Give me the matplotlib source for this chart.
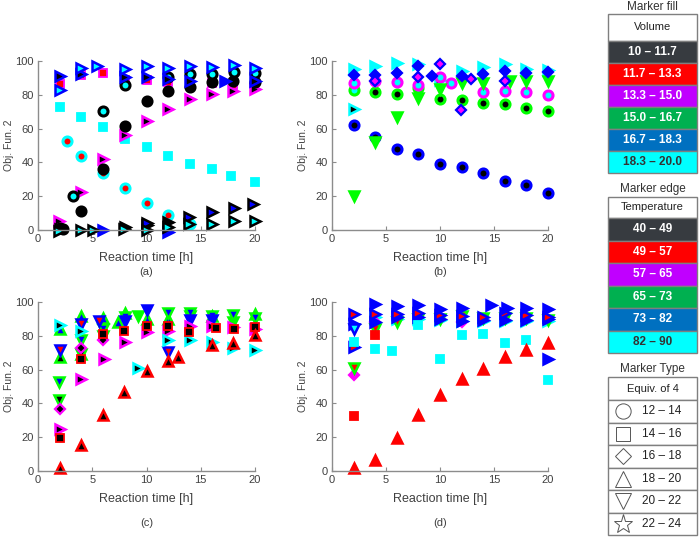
import matplotlib
matplotlib.use('Agg')
import matplotlib.pyplot as plt
from matplotlib.patches import Rectangle

plt.rcParams['font.family'] = ['Liberation Sans', 'DejaVu Sans']

# ── 색상 (MATLAB 마커 색) ──────────────────────────────
K, R, M, G, B, C = 'black', '#ff0000', '#ff00ff', '#00ff00', '#0000ff', '#00ffff'

# ── (a) 데이터 ────────────────────────────────────────
a_cyan_sq_x = [2, 4, 6, 8, 10, 12, 14, 16, 17.8, 20]
a_cyan_sq_y = [73, 66.7, 61, 54, 49.3, 43.8, 39, 35.9, 32.1, 28.2]
a_mag_sq_x = [2, 4, 6, 8, 10, 12, 16, 18]
a_mag_sq_y = [86.4, 92, 93.1, 89, 88.5, 87.5, 86.8, 86]
a_blue_cyan_tri_x = [2, 4, 5.4, 8, 10, 12, 14, 16, 18.1, 20]
a_blue_cyan_tri_y = [82.8, 95.7, 97.2, 95.3, 97.2, 95.7, 97.2, 96.6, 97.6, 95.7]
a_blue_blk_tri_x = [2, 4, 8, 10, 12, 14, 20]
a_blue_blk_tri_y = [91.1, 92.3, 90.3, 90.7, 89.5, 88.4, 88]
a_blue_tri_x = [6, 12, 17.2]
a_blue_tri_y = [0, -1, 88.4]
a_blk_cyan_circ_x = [3.2, 6, 8, 12, 14, 16, 18.1, 20]
a_blk_cyan_circ_y = [20.1, 70.6, 85.8, 90.7, 92.3, 92.3, 93.7, 93.1]
a_blk_circ_x = [2, 2.3, 4, 6, 8, 10, 12, 14, 16, 18, 20]
a_blk_circ_y = [1.4, 0.8, 11.2, 36.1, 61.5, 76.5, 82.4, 84.8, 87.4, 88.4, 87.4]
a_cyan_red_circ_x = [2.64, 4, 6, 8, 10, 12, 14]
a_cyan_red_circ_y = [52.9, 43.8, 33.9, 24.6, 16.2, 8.9, 3.5]
a_mag_tri_x = [1.93, 4, 6, 8, 10, 12, 14, 16, 18, 20]
a_mag_tri_y = [5.3, 22.7, 41.8, 56, 64.7, 71.4, 77.3, 80.3, 82.4, 83.3]
a_blk_blue_tri_x = [10, 13.95, 16, 18.1, 19.85]
a_blk_blue_tri_y = [4, 7.9, 10.4, 13.2, 15.2]
a_blk_cyan_tri_x = [1.93, 4, 5.1, 7.96, 10, 12, 13.95, 16, 18.1, 20]
a_blk_cyan_tri_y = [-0.6, 0, 0, 0.6, 0, 2, 3.4, 3.4, 5.3, 5.3]
a_blk_tri_x = [2, 8, 10, 12]
a_blk_tri_y = [0.5, 1.5, 3, 4.5]

# ── (b) 데이터 ────────────────────────────────────────
b_blue_blk_circ_x = [2, 4, 6, 8, 10, 12, 14, 16, 18, 20]
b_blue_blk_circ_y = [62.3, 55.2, 47.9, 45, 39.3, 37.1, 33.5, 28.8, 26.6, 22.1]
b_grn_blk_circ_x = [4, 6, 10, 12, 14, 16, 18, 20]
b_grn_blk_circ_y = [81.5, 80.3, 77.5, 76.9, 75, 74.4, 72.4, 70.4]
b_grn_cyan_circ_x = [2, 8]
b_grn_cyan_circ_y = [82.8, 84]
b_grn_dtri_x = [2, 4, 6, 8, 10, 12, 14, 16.5, 18, 20]
b_grn_dtri_y = [20, 52.3, 67.1, 78.3, 83.2, 86.8, 86.8, 88.2, 88.4, 88.4]
b_mag_cyan_circ_x = [2, 4, 6, 8, 10, 11, 14, 16, 18, 20]
b_mag_cyan_circ_y = [86.8, 88.2, 87.4, 85.8, 90.7, 86.8, 81.5, 82.4, 81.9, 79.9]
b_blue_dia_x = [2, 4, 6, 8, 9.23, 12, 14, 16, 18, 20]
b_blue_dia_y = [91.7, 91.7, 92.7, 97.2, 91.3, 91.3, 92.1, 94.1, 93.1, 93.5]
b_blue_mag_dia_x = [4, 8, 10, 11.94, 12.87, 16]
b_blue_mag_dia_y = [88, 90.7, 98, 71, 89.3, 88]
b_cyan_tri_x = [2, 4, 6, 8, 12, 14, 16, 18, 20]
b_cyan_tri_y = [95.3, 97.2, 98.6, 98, 94.3, 96.6, 98, 95.3, 94.7]
b_cyan_blk_tri_x = [2, 10]
b_cyan_blk_tri_y = [71.8, 89]

# ── (c) 데이터 ────────────────────────────────────────
c_red_utri_x = [2, 3.96, 5.96, 7.96, 10, 12, 12.87, 16, 18, 20]
c_red_utri_y = [2, 15.2, 33, 46.7, 59, 64.9, 67.5, 74.4, 75.8, 80.3]
c_red_sq_x = [2, 3.93, 6, 7.95, 10, 12, 13.9, 16.4, 18.1, 20]
c_red_sq_y = [19.8, 66.5, 81.3, 82.8, 85.8, 85.8, 82.2, 84.8, 83.8, 85]
c_mag_tri_x = [2, 4, 6.1, 8, 10, 12, 14, 16, 18, 20]
c_mag_tri_y = [25.1, 54.7, 66.1, 76.3, 82.2, 83, 86, 86, 85, 84]
c_cyan_tri_x = [2.03, 4, 9.25, 12, 14, 16, 18, 20]
c_cyan_tri_y = [86.2, 83, 61.2, 77.3, 77.7, 76.5, 73, 71.4]
c_grn_blue_dtri_x = [1.94, 3.93, 6, 8, 12, 14, 16, 18, 20]
c_grn_blue_dtri_y = [52.7, 77.3, 84.3, 91, 93.5, 93.5, 92, 92.5, 90.5]
c_grn_blk_dtri_x = [1.94, 3.93, 6]
c_grn_blk_dtri_y = [41.8, 69, 80]
c_grn_blue_utri_x = [2, 3.93, 6, 7.4, 8, 10, 12, 16, 20]
c_grn_blue_utri_y = [84.3, 91.5, 90.5, 88.2, 93.5, 90.2, 90.2, 92, 93]
c_grn_blk_utri_x = [2, 3.93]
c_grn_blk_utri_y = [67.5, 69]
c_blue_red_dtri_x = [2, 3.93, 5.6, 12]
c_blue_red_dtri_y = [71.4, 87.2, 89, 70.4]
c_blue_dtri_x = [8, 10, 14, 16]
c_blue_dtri_y = [88.5, 95.5, 89.5, 89.5]
c_mag_dia_x = [2, 3.93, 6]
c_mag_dia_y = [36.5, 73, 77.7]
c_grn_dtri_x = [9.25, 14, 18]
c_grn_dtri_y = [91.5, 92, 88]

# ── (d) 데이터 ────────────────────────────────────────
d_red_utri_x = [2, 4, 6, 8, 10, 12, 14, 16, 18, 20]
d_red_utri_y = [2, 6.7, 19.8, 33.4, 44.8, 54.7, 60.2, 67.3, 71.8, 76]
d_cyan_sq_x = [2, 4, 5.6, 8, 10, 12, 14, 16, 18, 20]
d_cyan_sq_y = [76.6, 72.4, 71, 86.2, 66.1, 80.3, 81.3, 75.7, 77.7, 54.1]
d_red_sq_x = [2, 4]
d_red_sq_y = [32.4, 80.3]
d_mag_dia_x = [2, 4, 12]
d_mag_dia_y = [57, 88, 88]
d_cyan_tri_x = [4, 6, 8, 10, 12, 14, 16, 18, 20]
d_cyan_tri_y = [91, 90, 90, 89.5, 89, 89, 89, 88.5, 88.5]
d_grn_red_dtri_x = [2, 4, 6, 8, 10, 12, 14, 16, 18, 20]
d_grn_red_dtri_y = [61.2, 84.2, 88.4, 90.2, 90.2, 91.5, 90.5, 90.5, 90.5, 89.6]
d_blue_low_tri_x = [4, 6, 8, 10, 12, 14, 16, 18, 20]
d_blue_low_tri_y = [88.2, 91, 91, 90, 89, 89.5, 89.5, 89.5, 90]
d_blue_red_tri_x = [2, 2, 4, 6, 8, 10, 12, 14, 16, 18, 20]
d_blue_red_tri_y = [93.1, 73.4, 93, 93, 93.5, 92.1, 91.5, 91, 93.5, 92.5, 91]
d_blue_tri_x = [2, 4, 6, 8, 10, 12, 14.7, 16.2, 18, 20, 20]
d_blue_tri_y = [87.2, 99, 97.4, 98, 96.1, 96.6, 98, 96.6, 96.6, 96.1, 66.5]
d_blue_cyan_dtri_x = [2]
d_blue_cyan_dtri_y = [84.3]

# (x, y, 마커, 채움색, 테두리색) - 그리는 순서대로
series_a = [
    (a_cyan_sq_x, a_cyan_sq_y, 's', C, C),
    (a_mag_sq_x, a_mag_sq_y, 's', R, M),
    (a_mag_tri_x, a_mag_tri_y, '>', K, M),
    (a_cyan_red_circ_x, a_cyan_red_circ_y, 'o', R, C),
    (a_blk_circ_x, a_blk_circ_y, 'o', K, K),
    (a_blk_cyan_circ_x, a_blk_cyan_circ_y, 'o', C, K),
    (a_blue_blk_tri_x, a_blue_blk_tri_y, '>', K, B),
    (a_blue_cyan_tri_x, a_blue_cyan_tri_y, '>', C, B),
    (a_blue_tri_x, a_blue_tri_y, '>', B, B),
    (a_blk_tri_x, a_blk_tri_y, '>', K, K),
    (a_blk_blue_tri_x, a_blk_blue_tri_y, '>', B, K),
    (a_blk_cyan_tri_x, a_blk_cyan_tri_y, '>', C, K),
]
series_b = [
    (b_cyan_tri_x, b_cyan_tri_y, '>', C, C),
    (b_cyan_blk_tri_x, b_cyan_blk_tri_y, '>', K, C),
    (b_blue_blk_circ_x, b_blue_blk_circ_y, 'o', K, B),
    (b_grn_cyan_circ_x, b_grn_cyan_circ_y, 'o', C, G),
    (b_grn_blk_circ_x, b_grn_blk_circ_y, 'o', K, G),
    (b_mag_cyan_circ_x, b_mag_cyan_circ_y, 'o', C, M),
    (b_grn_dtri_x, b_grn_dtri_y, 'v', G, G),
    (b_blue_dia_x, b_blue_dia_y, 'D', B, B),
    (b_blue_mag_dia_x, b_blue_mag_dia_y, 'D', M, B),
]
series_c = [
    (c_grn_dtri_x, c_grn_dtri_y, 'v', G, G),
    (c_grn_blue_utri_x, c_grn_blue_utri_y, '^', B, G),
    (c_grn_blk_utri_x, c_grn_blk_utri_y, '^', K, G),
    (c_grn_blue_dtri_x, c_grn_blue_dtri_y, 'v', B, G),
    (c_grn_blk_dtri_x, c_grn_blk_dtri_y, 'v', K, G),
    (c_blue_dtri_x, c_blue_dtri_y, 'v', B, B),
    (c_blue_red_dtri_x, c_blue_red_dtri_y, 'v', R, B),
    (c_mag_dia_x, c_mag_dia_y, 'D', K, M),
    (c_mag_tri_x, c_mag_tri_y, '>', K, M),
    (c_cyan_tri_x, c_cyan_tri_y, '>', K, C),
    (c_red_sq_x, c_red_sq_y, 's', K, R),
    (c_red_utri_x, c_red_utri_y, '^', K, R),
]
series_d = [
    (d_cyan_tri_x, d_cyan_tri_y, '>', C, C),
    (d_mag_dia_x, d_mag_dia_y, 'D', M, M),
    (d_grn_red_dtri_x, d_grn_red_dtri_y, 'v', R, G),
    (d_blue_low_tri_x, d_blue_low_tri_y, '>', B, B),
    (d_blue_red_tri_x, d_blue_red_tri_y, '>', R, B),
    (d_blue_tri_x, d_blue_tri_y, '>', B, B),
    (d_blue_cyan_dtri_x, d_blue_cyan_dtri_y, 'v', C, B),
    (d_cyan_sq_x, d_cyan_sq_y, 's', C, C),
    (d_red_sq_x, d_red_sq_y, 's', R, R),
    (d_red_utri_x, d_red_utri_y, '^', R, R),
]

# ── 범례 표 데이터 ────────────────────────────────────
fill_labels = ['10 – 11.7', '11.7 – 13.3', '13.3 – 15.0', '15.0 – 16.7', '16.7 – 18.3', '18.3 – 20.0']
edge_labels = ['40 – 49', '49 – 57', '57 – 65', '65 – 73', '73 – 82', '82 – 90']
type_labels = ['12 – 14', '14 – 16', '16 – 18', '18 – 20', '20 – 22', '22 – 24']
type_markers = ['o', 's', 'D', '^', 'v', '*']
legend_colors = ['#373b40', '#ff0000', '#c000ff', '#00b050', '#0070c0', '#00ffff']
legend_text = ['white', 'white', 'white', 'white', 'white', '#333333']

MS = {'o': 6.5, 's': 6.0, 'D': 5.5, '^': 7.5, 'v': 7.5, '>': 7.5}
MEW = {'o': 2.2, 's': 1.3, 'D': 1.6, '^': 1.8, 'v': 1.8, '>': 1.8}
ICON_MS = {'o': 11, 's': 10, 'D': 8.5, '^': 12, 'v': 12, '*': 14}

W, H = 699, 537
fig = plt.figure(figsize=(W / 100, H / 100), dpi=100, facecolor='white')

AX_COL = '#8c8c8c'
TXT = '#404040'


def px_axes(left, top, right, bottom):
    return fig.add_axes([left / W, 1 - bottom / H, (right - left) / W, (bottom - top) / H])


def draw_panel(ax, series):
    for x, y, m, fc, ec in series:
        ax.plot(x, y, ls='none', marker=m, ms=MS[m], mfc=fc, mec=ec,
                mew=MEW[m], clip_on=False)
    ax.set_xlim(0, 20)
    ax.set_ylim(0, 100)
    ax.set_xticks([0, 5, 10, 15, 20])
    ax.set_yticks([0, 20, 40, 60, 80, 100])
    for s in ['top', 'right']:
        ax.spines[s].set_visible(False)
    for s in ['left', 'bottom']:
        ax.spines[s].set_color(AX_COL)
        ax.spines[s].set_linewidth(1.0)
    ax.tick_params(direction='in', length=3, color=AX_COL, labelcolor=TXT,
                   labelsize=8, pad=3)
    ax.set_xlabel('Reaction time [h]', fontsize=9, color=TXT)
    ax.set_ylabel('Obj. Fun. 2', fontsize=7.5, color=TXT)
    ax.xaxis.set_label_coords(0.5, -0.13)
    ax.yaxis.set_label_coords(-0.11, 0.5)
    ax.set_facecolor('none')
    return ax


ax_a = draw_panel(px_axes(38, 61, 255, 230), series_a)
ax_b = draw_panel(px_axes(332, 61, 548, 230), series_b)
ax_c = draw_panel(px_axes(38, 302, 255, 471), series_c)
ax_d = draw_panel(px_axes(332, 302, 548, 471), series_d)

# 패널 라벨
for ax, tag, dy in [(ax_a, '(a)', 42), (ax_b, '(b)', 42), (ax_c, '(c)', 52), (ax_d, '(d)', 52)]:
    ax.text(0.5, -dy / 169, tag, transform=ax.transAxes, ha='center', va='center',
            fontsize=8, color=TXT)

# ── 오른쪽 범례 표 ───────────────────────────────────
lg = fig.add_axes([0, 0, 1, 1])
lg.set_xlim(0, W)
lg.set_ylim(H, 0)
lg.axis('off')
lg.patch.set_alpha(0)

TL, TR = 608, 697
BORDER = '#7f7f7f'


def draw_table(title, title_y, top, head, head_h, row_h, labels, colors=None, tcolors=None, icons=None):
    lg.text((TL + TR) / 2, title_y, title, ha='center', va='center', fontsize=8.5,
            color='#333333')
    lg.add_patch(Rectangle((TL, top), TR - TL, head_h, fc='white', ec=BORDER, lw=1))
    lg.text((TL + TR) / 2, top + head_h / 2, head, ha='center', va='center',
            fontsize=8, color='#222222')
    for i, lab in enumerate(labels):
        y0 = top + head_h + i * row_h
        fc = colors[i] if colors else 'white'
        lg.add_patch(Rectangle((TL, y0), TR - TL, row_h, fc=fc, ec=BORDER, lw=1))
        if icons:
            lg.plot(TL + 15, y0 + row_h / 2, marker=icons[i], ms=ICON_MS[icons[i]],
                    mfc='white', mec='#555555', mew=0.7, ls='none')
            lg.text(TL + 54, y0 + row_h / 2, lab, ha='center', va='center',
                    fontsize=8.5, color='#222222')
        else:
            lg.text((TL + TR) / 2, y0 + row_h / 2, lab, ha='center', va='center',
                    fontsize=8.5, fontweight='bold', color=tcolors[i])


draw_table('Marker fill', 7, 14, 'Volume', 27, 22, fill_labels, legend_colors, legend_text)
draw_table('Marker edge', 189, 197, 'Temperature', 21, 22.5, edge_labels, legend_colors, legend_text)
draw_table('Marker Type', 369, 377, 'Equiv. of 4', 23, 22.5, type_labels, icons=type_markers)

fig.savefig('out.png', dpi=100, facecolor='white')
